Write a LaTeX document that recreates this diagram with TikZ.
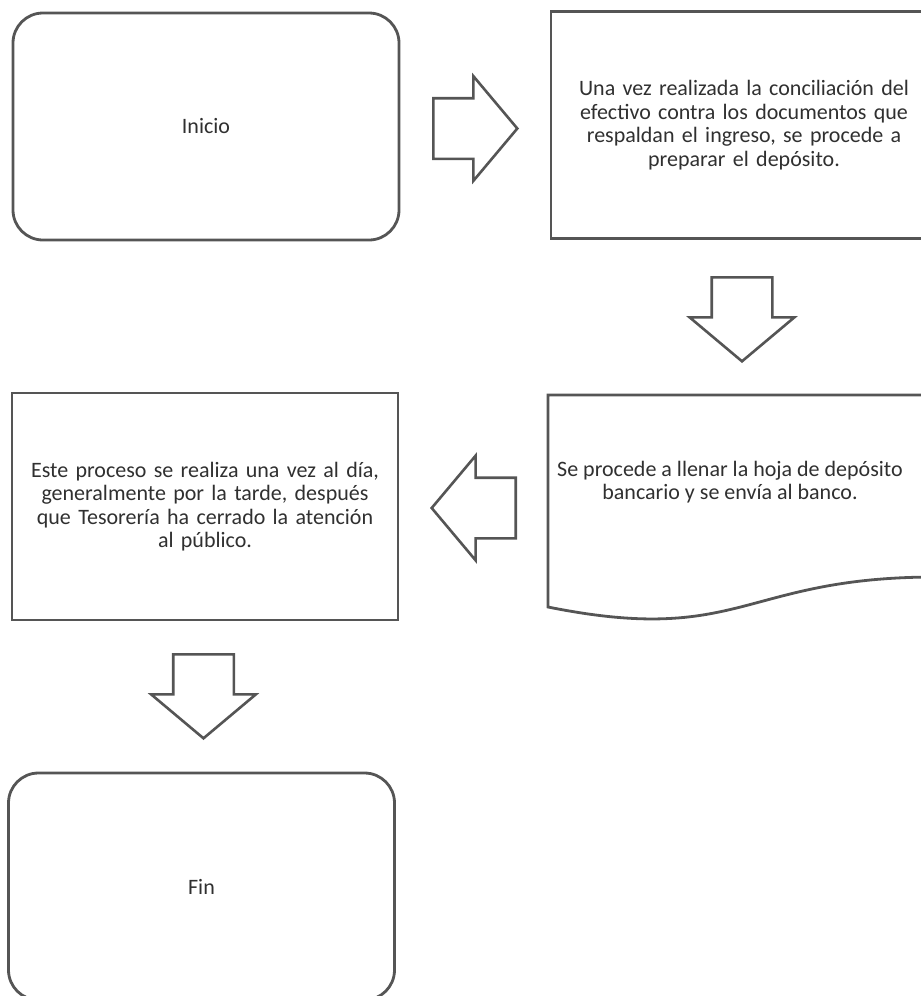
\documentclass[tikz,border=0pt]{standalone}
\usepackage{fontspec}
\setmainfont{Carlito}
\usetikzlibrary{shapes.arrows, positioning}
\definecolor{lineGray}{RGB}{85, 85, 85}
\definecolor{textGray}{RGB}{48, 48, 48}

\tikzset{
  stepbox/.style={draw=lineGray, line width=2.8pt, fill=white, minimum width=386pt, minimum height=227pt,
    inner sep=3pt, text width=378pt, align=center, text=textGray, font=\fontsize{22}{23.5}\selectfont},
  termbox/.style={stepbox, rounded corners=30pt},
  bigarrow/.style={single arrow, draw=lineGray, line width=2.6pt, fill=white, inner xsep=0pt, inner ysep=29pt,
    minimum height=84pt, single arrow head extend=22pt, single arrow tip angle=100, anchor=tail}
}

\begin{document}
\begin{tikzpicture}[x=1pt, y=-1pt]
  \useasboundingbox (0,0) rectangle (921,996);
  \clip (0,0) rectangle (921,996);

  % cajas del proceso
  \node[termbox] (inicio) at (206,126.5) {Inicio};
  \node[stepbox] (conciliar) at (744,125) {Una vez realizada la conciliación del\\
    efectivo contra los documentos que\\ respaldan el ingreso, se procede a\\ preparar el depósito.};

  % documento
  \draw[draw=lineGray, line width=2.8pt, fill=white] (548,395) -- (936,395) -- (936,577)
    .. controls (742,577) and (742,646) .. (548,607) -- cycle;
  \node[align=center, text=textGray, font=\fontsize{22}{23.5}\selectfont] (llenar) at (730,482)
    {Se procede a llenar la hoja de depósito\\ bancario y se envía al banco.};

  \node[stepbox] (proceso) at (205,506.5) {Este proceso se realiza una vez al día,\\
    generalmente por la tarde, después\\ que Tesorería ha cerrado la atención\\ al público.};
  \node[termbox] (fin) at (201.5,886.5) {Fin};

  % flechas de bloque
  \node[bigarrow] (a1) at (432,128.5) {};
  \node[bigarrow, rotate=-90] (a2) at (742,276) {};
  \node[bigarrow, rotate=180] (a3) at (517,508) {};
  \node[bigarrow, rotate=-90] (a4) at (203.5,653) {};
\end{tikzpicture}
\end{document}
